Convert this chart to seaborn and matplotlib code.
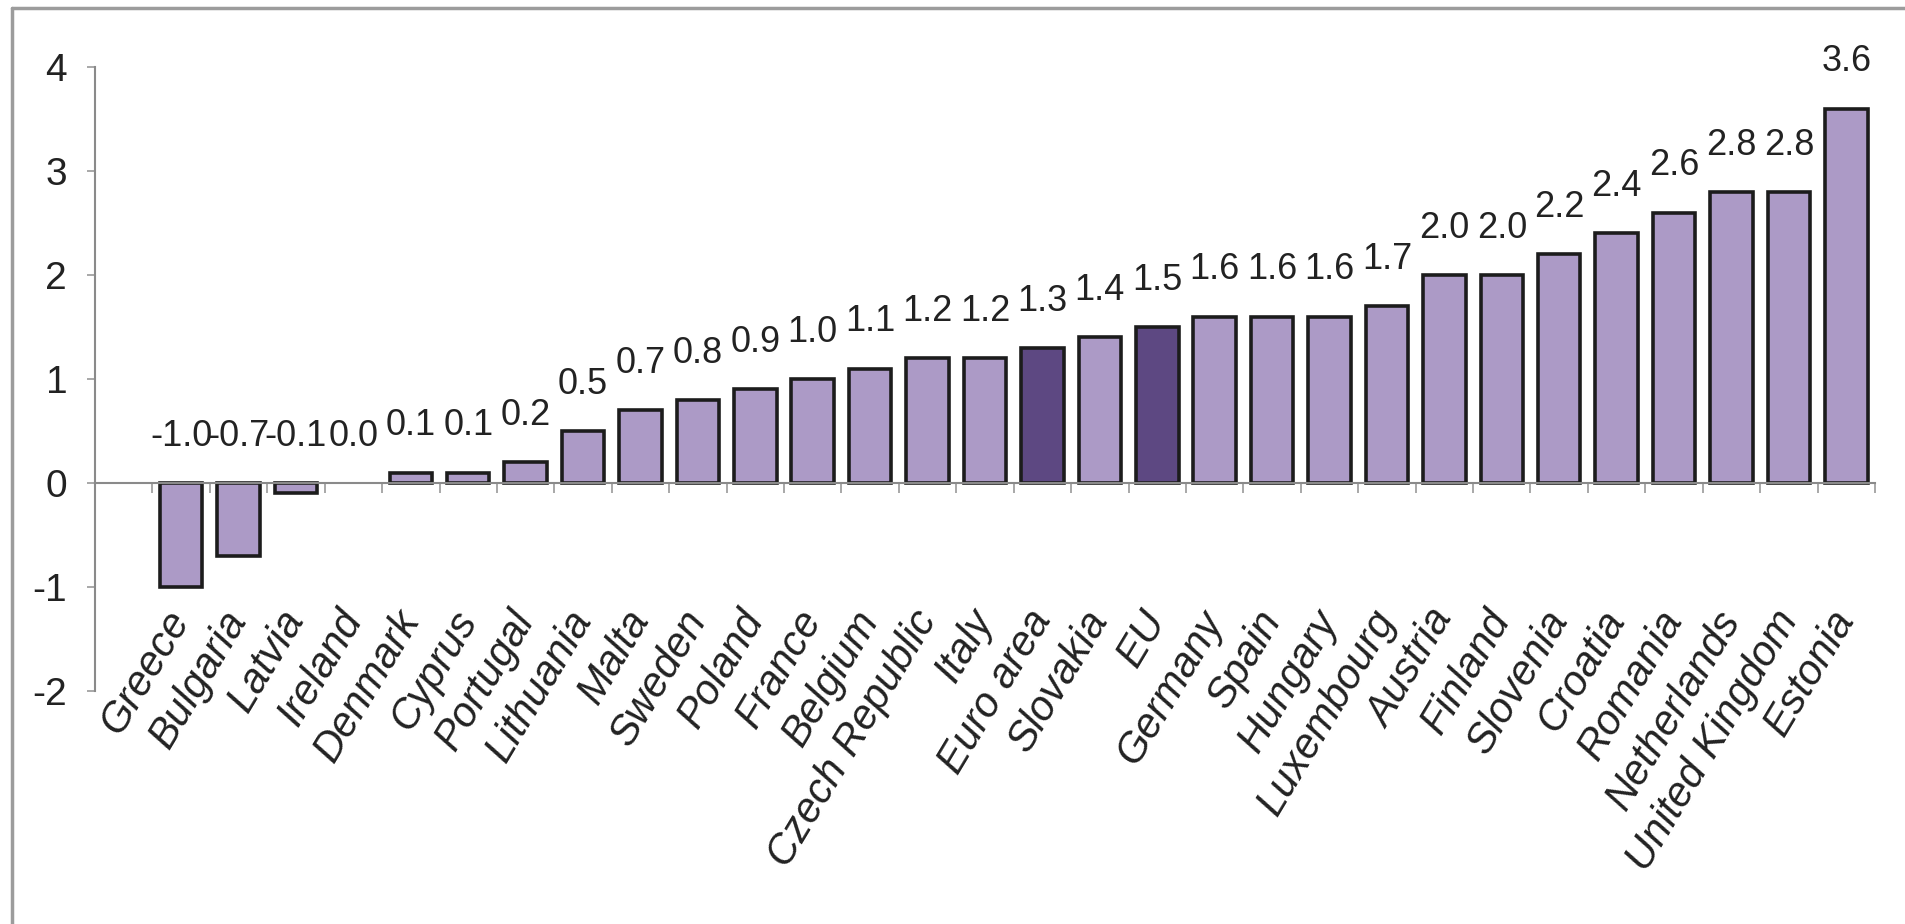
import numpy as np
import seaborn as sns
import matplotlib
matplotlib.use("Agg")
import matplotlib.pyplot as plt
from matplotlib import font_manager
from matplotlib.lines import Line2D

countries = ["Greece", "Bulgaria", "Latvia", "Ireland", "Denmark", "Cyprus", "Portugal",
             "Lithuania", "Malta", "Sweden", "Poland", "France", "Belgium", "Czech Republic",
             "Italy", "Euro area", "Slovakia", "EU", "Germany", "Spain", "Hungary",
             "Luxembourg", "Austria", "Finland", "Slovenia", "Croatia", "Romania",
             "Netherlands", "United Kingdom", "Estonia"]
values = [-1.0, -0.7, -0.1, 0.0, 0.1, 0.1, 0.2, 0.5, 0.7, 0.8, 0.9, 1.0, 1.1, 1.2, 1.2,
          1.3, 1.4, 1.5, 1.6, 1.6, 1.6, 1.7, 2.0, 2.0, 2.2, 2.4, 2.6, 2.8, 2.8, 3.6]
aggregates = ["Euro area", "EU"]
y_ticks = [-2, -1, 0, 1, 2, 3, 4]

light_purple = "#ac9ac6"
dark_purple = "#5d4882"
bar_colors = [dark_purple if c in aggregates else light_purple for c in countries]

sns.set_style("white")
# Narrow font looks closer to the squeezed numbers of the original
names = {f.name for f in font_manager.fontManager.ttflist}
narrow_font = "Liberation Sans Narrow" if "Liberation Sans Narrow" in names else "Liberation Sans"
plt.rcParams["font.family"] = [narrow_font, "DejaVu Sans"]

fig = plt.figure(figsize=(19.05, 9.24), dpi=100)
ax = fig.add_axes([95 / 1905, 1 - 691 / 924, 1780 / 1905, 624 / 924])

sns.barplot(x=countries, y=values, hue=countries, palette=bar_colors, legend=False,
            width=0.74, edgecolor="#1c1c1c", linewidth=2.6, saturation=1, ax=ax)

# zero-height bar should not leave an edge on the axis
for p in ax.patches:
    if p.get_height() == 0:
        p.set_linewidth(0)

for i, v in enumerate(values):
    ax.annotate(f"{v:.1f}", (i, max(v, 0)), xytext=(0, 21), textcoords="offset points",
                ha="center", va="bottom", fontsize=26, color="#222222")

ax.set_xlim(-1.5, len(countries) - 0.5)
ax.set_ylim(-2, 4)
ax.set_yticks(y_ticks)
ax.set_yticklabels([str(t) for t in y_ticks])

for side in ["top", "right"]:
    ax.spines[side].set_visible(False)
ax.spines["left"].set_color("#8a8a8a")
ax.spines["left"].set_linewidth(1.5)
ax.spines["bottom"].set_position(("data", 0))
ax.spines["bottom"].set_color("#8a8a8a")
ax.spines["bottom"].set_linewidth(1.5)

ax.set_xticks(np.arange(len(countries)))
ax.set_xticks(np.arange(-0.5, len(countries)), minor=True)
ax.set_xticklabels(countries, rotation=59, ha="right", va="center", rotation_mode="anchor",
                   family=["Liberation Sans", "DejaVu Sans"], fontstyle="italic",
                   fontsize=30, color="#222222")
ax.tick_params(axis="x", which="major", length=0, pad=94)
ax.tick_params(axis="x", which="minor", bottom=True, length=7, width=1.2, color="#9a9a9a", direction="out")
ax.tick_params(axis="y", left=True, length=6, width=1.2, color="#9a9a9a", direction="out",
               labelsize=28, labelcolor="#222222", pad=14)
ax.set_xlabel("")
ax.set_ylabel("")
ax.grid(False)

# grey frame of the original picture (top and left edges)
fig.add_artist(Line2D([12 / 1905, 12 / 1905], [0, 1 - 8 / 924], transform=fig.transFigure,
                      color="#9c9c9c", linewidth=2.5))
fig.add_artist(Line2D([12 / 1905, 1], [1 - 8 / 924, 1 - 8 / 924], transform=fig.transFigure,
                      color="#9c9c9c", linewidth=2.5))

fig.savefig("out.png", dpi=100)
